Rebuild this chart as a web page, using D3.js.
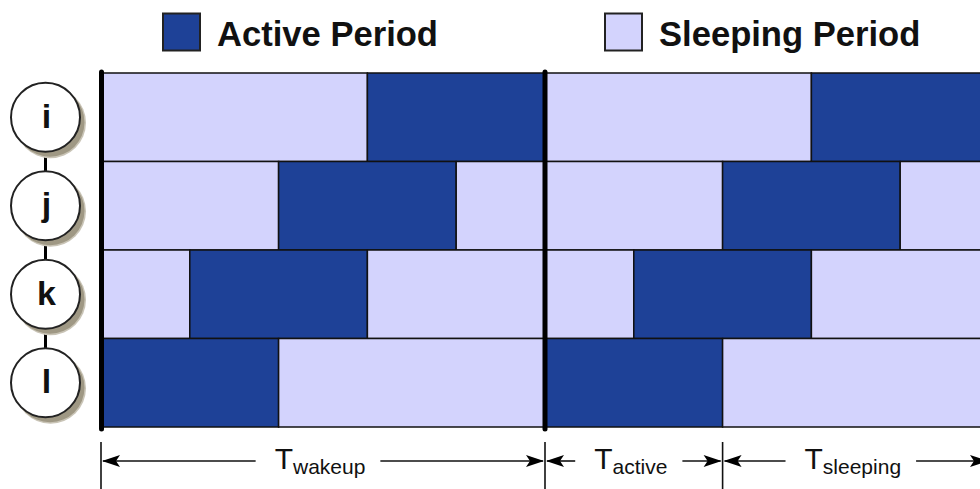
<!DOCTYPE html>
<html>
<head>
<meta charset="utf-8">
<script src="https://cdn.jsdelivr.net/npm/d3@7"></script>
<style>
  html, body { margin: 0; padding: 0; background: #fff; }
  svg { display: block; }
  text { font-family: "Liberation Sans", Arial, Helvetica, sans-serif; }
</style>
</head>
<body>
<svg id="chart" width="980" height="489"></svg>
<script>
// ---- data (time in slot units) ----
const nodes = ["i", "j", "k", "l"];
const cycleBounds = [0, 5, 10];          // wake-up cycle boundaries
const activeStartInCycle = [3, 2, 1, 0]; // first active slot of each node inside a cycle
const activeLength = 2;                  // slots per active period
const legendLabels = ["Active Period", "Sleeping Period"];
const spanStarts = [0, 5, 7];
const spanEnds = [5, 7, 10];
const spanSubs = ["wakeup", "active", "sleeping"];

// ---- build schedule segments from the arrays ----
const segments = [];
nodes.forEach((n, ni) => {
  for (let c = 0; c < cycleBounds.length - 1; c++) {
    const c0 = cycleBounds[c], c1 = cycleBounds[c + 1];
    const a0 = c0 + activeStartInCycle[ni], a1 = a0 + activeLength;
    if (a0 > c0) segments.push({ node: n, start: c0, end: a0, active: false });
    segments.push({ node: n, start: a0, end: a1, active: true });
    if (a1 < c1) segments.push({ node: n, start: a1, end: c1, active: false });
  }
});

const ACTIVE = "#1e4197", SLEEP = "#d3d3fd";
const svg = d3.select("#chart");

const x = d3.scaleLinear().domain([0, 10]).range([101, 989]);
const y = d3.scaleBand().domain(nodes).range([73, 427]).padding(0);

// ---- rows ----
svg.append("g").selectAll("rect").data(segments).join("rect")
  .attr("x", d => x(d.start))
  .attr("y", d => y(d.node))
  .attr("width", d => x(d.end) - x(d.start))
  .attr("height", y.bandwidth())
  .attr("fill", d => d.active ? ACTIVE : SLEEP)
  .attr("stroke", "#111")
  .attr("stroke-width", 1.5);

// thick cycle boundary lines
svg.append("g").selectAll("line").data(cycleBounds.slice(0, 2)).join("line")
  .attr("x1", d => x(d) + (d === 0 ? 0.5 : 0)).attr("x2", d => x(d) + (d === 0 ? 0.5 : 0))
  .attr("y1", y.range()[0] - 1).attr("y2", y.range()[1] + 2)
  .attr("stroke", "#000").attr("stroke-width", 5).attr("stroke-linecap", "round");

// ---- node circles ----
const cx = 45.5, r = 34.5;
const yc = d => y(d) + y.bandwidth() / 2;
svg.append("line")
  .attr("x1", cx).attr("x2", cx)
  .attr("y1", yc(nodes[0])).attr("y2", yc(nodes[nodes.length - 1]))
  .attr("stroke", "#000").attr("stroke-width", 3);
const ng = svg.append("g").selectAll("g").data(nodes).join("g");
// soft drop shadow (layered circles)
ng.append("circle")
  .attr("cx", cx + 5).attr("cy", d => yc(d) + 5.5).attr("r", r + 1)
  .attr("fill", "#c9c4b6");
ng.append("circle")
  .attr("cx", cx + 4.5).attr("cy", d => yc(d) + 5).attr("r", r)
  .attr("fill", "#9f9884");
ng.append("circle")
  .attr("cx", cx).attr("cy", d => yc(d)).attr("r", r)
  .attr("fill", "#fff").attr("stroke", "#222").attr("stroke-width", 2);
ng.append("text")
  .attr("x", cx + 1).attr("y", d => yc(d) + 10.5)
  .attr("text-anchor", "middle")
  .attr("font-size", 34).attr("font-weight", "bold").attr("fill", "#111")
  .text(d => d);

// ---- legend ----
const legendX = [163, 605];
const legendColors = [ACTIVE, SLEEP];
const lg = svg.append("g").selectAll("g").data(legendLabels).join("g");
lg.append("rect")
  .attr("x", (d, i) => legendX[i]).attr("y", 13.5)
  .attr("width", 37).attr("height", 37)
  .attr("fill", (d, i) => legendColors[i])
  .attr("stroke", "#222").attr("stroke-width", 2);
lg.append("text")
  .attr("x", (d, i) => legendX[i] + 54).attr("y", 46)
  .attr("font-size", 34.6).attr("font-weight", "bold").attr("fill", "#111")
  .text(d => d);

// ---- time span annotations ----
const ay = 461, tickTop = 442, tickBottom = 492;
const ann = svg.append("g");
const tickXs = Array.from(new Set(spanStarts.concat(spanEnds)));
ann.selectAll("line.tick").data(tickXs).join("line").attr("class", "tick")
  .attr("x1", d => x(d)).attr("x2", d => x(d))
  .attr("y1", tickTop).attr("y2", tickBottom)
  .attr("stroke", "#111").attr("stroke-width", 1.6);

function arrowHead(tipX, dir) { // dir: -1 points left, +1 points right
  const L = 18, H = 6, n = 4;
  return `M${tipX},${ay} L${tipX - dir * L},${ay - H} L${tipX - dir * (L - n)},${ay} L${tipX - dir * L},${ay + H} Z`;
}

spanStarts.forEach((s, i) => {
  const x0 = x(s), x1 = x(spanEnds[i]);
  const mid = (x0 + x1) / 2;
  const t = ann.append("text").attr("y", 469).attr("fill", "#111");
  t.append("tspan").attr("font-size", 30).text("T");
  t.append("tspan").attr("font-size", 21).attr("dy", 4.5).text(spanSubs[i]);
  const w = t.node().getComputedTextLength();
  const tx = mid - w / 2 - 3;
  t.attr("x", tx);
  const gapL = 19, gapR = 15;
  ann.append("line").attr("x1", x0 + 2).attr("x2", tx - gapL).attr("y1", ay).attr("y2", ay)
    .attr("stroke", "#111").attr("stroke-width", 1.6);
  ann.append("line").attr("x1", tx + w + gapR).attr("x2", x1 - 2).attr("y1", ay).attr("y2", ay)
    .attr("stroke", "#111").attr("stroke-width", 1.6);
  ann.append("path").attr("d", arrowHead(x0 + 1, -1)).attr("fill", "#000");
  ann.append("path").attr("d", arrowHead(x1 - 1, 1)).attr("fill", "#000");
});
</script>
</body>
</html>
